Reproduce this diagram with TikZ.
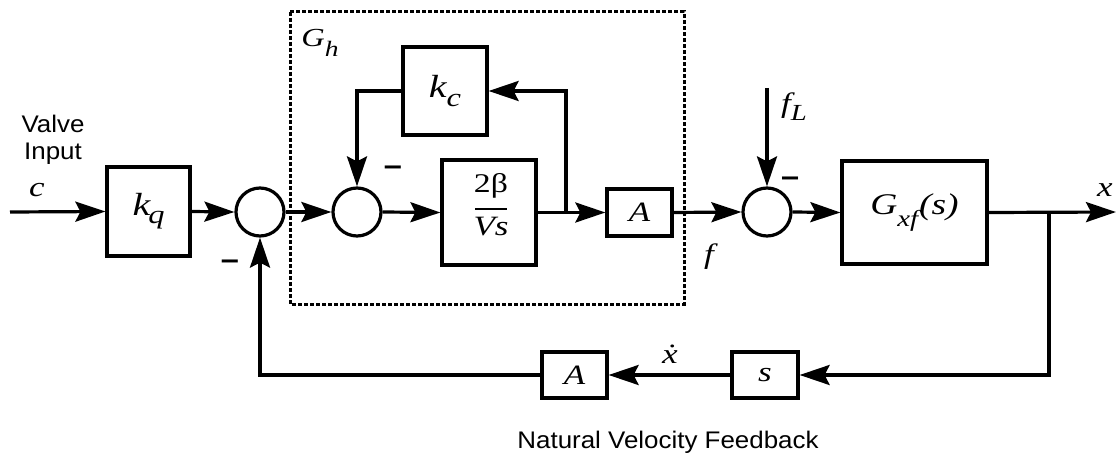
\documentclass[tikz,border=0pt]{standalone}
\usepackage{fontspec}
\setmainfont{Liberation Serif}[FakeStretch=1.25]
\newfontfamily\arialf{Liberation Sans}[FakeStretch=1.08]
\usetikzlibrary{arrows.meta}
\newcommand\fsz[1]{\fontsize{#1}{#1}\selectfont}
\newcommand\lowsub[3]{\raisebox{-#2}{\fsz{#1}\itshape #3}}
\tikzset{
  blk/.style={draw, line width=3.2pt, inner sep=0pt},
  sumn/.style={circle, draw, line width=3.2pt, minimum size=48pt, inner sep=0pt},
  conn/.style={line width=3.2pt, -{Stealth[length=30pt,width=20pt,inset=5pt]}},
  lbl/.style={inner sep=0pt, font=\fsz{28pt}\itshape},
  sans/.style={inner sep=0pt, font=\fsz{24pt}\arialf},
  minus/.style={inner sep=0pt, font=\fsz{30pt}\arialf\bfseries},
  dbox/.style={draw, line width=3pt, dash pattern=on 4pt off 2pt}
}
\begin{document}
\begin{tikzpicture}[x=1pt,y=-1pt]
\useasboundingbox (0,0) rectangle (1116,457);

% dashed G_h box
\draw[dbox] (290,12) rectangle (684,304);
\node[inner sep=0pt] (gh) at (320,43) {\fsz{26pt}\itshape G\lowsub{22pt}{10pt}{h}};

% labels on the input
\node[sans] (valve) at (53,124) {Valve};
\node[sans] (input) at (53,154) {Input};
\node[lbl] (c) at (37,190) {c};

% blocks
\coordinate (in) at (10,212);
\node[blk, minimum width=83pt, minimum height=89pt] (kq) at (148.5,211.5)
  {\fsz{32pt}\itshape k\kern-2pt\lowsub{26pt}{8pt}{q}};
\node[sumn] (s1) at (260,212) {};
\node[sumn] (s2) at (357,212) {};
\node[blk, minimum width=84pt, minimum height=88pt] (kc) at (445,91)
  {\fsz{32pt}\itshape k\lowsub{26pt}{9pt}{c}};
\node[blk, minimum width=94pt, minimum height=105pt] (fr) at (489,212.5) {};
\node[anchor=base, inner sep=0pt, font=\fsz{27pt}] (num) at (491,193) {2β};
\draw[line width=2pt] (475,209) -- (507,209);
\node[anchor=base, inner sep=0pt, font=\fsz{28pt}\itshape] (den) at (491,235) {Vs};
\coordinate (br1) at (566,212);
\node[blk, minimum width=65pt, minimum height=47pt] (a1) at (639.5,212.5)
  {\fsz{28pt}\itshape A};
\node[sumn] (s3) at (767,212) {};
\coordinate (fl) at (767,88);
\node[blk, minimum width=145pt, minimum height=103pt] (gxf) at (914.5,212.5)
  {\fsz{30pt}\itshape G\lowsub{23pt}{12pt}{xf}\kern1pt(s)};
\coordinate (br2) at (1049,212);
\coordinate (out) at (1116,212);

% feedback path
\coordinate (fbr) at (1049,376);
\node[blk, minimum width=66pt, minimum height=46pt] (sb) at (765,375)
  {\fsz{28pt}\itshape s};
\node[blk, minimum width=65pt, minimum height=46pt] (a2) at (574.5,375)
  {\fsz{28pt}\itshape A};
\coordinate (fbl) at (260,376);

% connectors
\draw[conn] (in) -- (kq.west);
\draw[conn] (kq.east) -- (s1.west);
\draw[conn] (s1.east) -- (s2.west);
\draw[conn] (s2.east) -- (fr.west);
\draw[conn] (fr.east) -- (a1.west);
\draw[conn] (br1) |- (kc.east);
\draw[conn] (kc.west) -| (s2.north);
\draw[conn] (a1.east) -- (s3.west);
\draw[conn] (fl) -- (s3.north);
\draw[conn] (s3.east) -- (gxf.west);
\draw[conn] (gxf.east) -- (out);
\draw[conn] (br2) |- (sb.east);
\draw[conn] (sb.west) -- (a2.east);
\draw[conn] (a2.west) -| (s1.south);

% signal labels
\node[minus] (m1) at (230,265) {–};
\node[minus] (m2) at (393,171) {–};
\node[minus] (m3) at (790,182) {–};
\node[inner sep=0pt] (flab) at (794,107) {\fsz{28pt}\itshape f\lowsub{23pt}{8pt}{L}};
\node[lbl] (f) at (709,257) {f};
\node[lbl] (x) at (1105,190) {x};
\node[lbl] (xd) at (670,354) {\.{x}};
\node[sans] (nvf) at (668,442) {Natural Velocity Feedback};
\end{tikzpicture}
\end{document}
